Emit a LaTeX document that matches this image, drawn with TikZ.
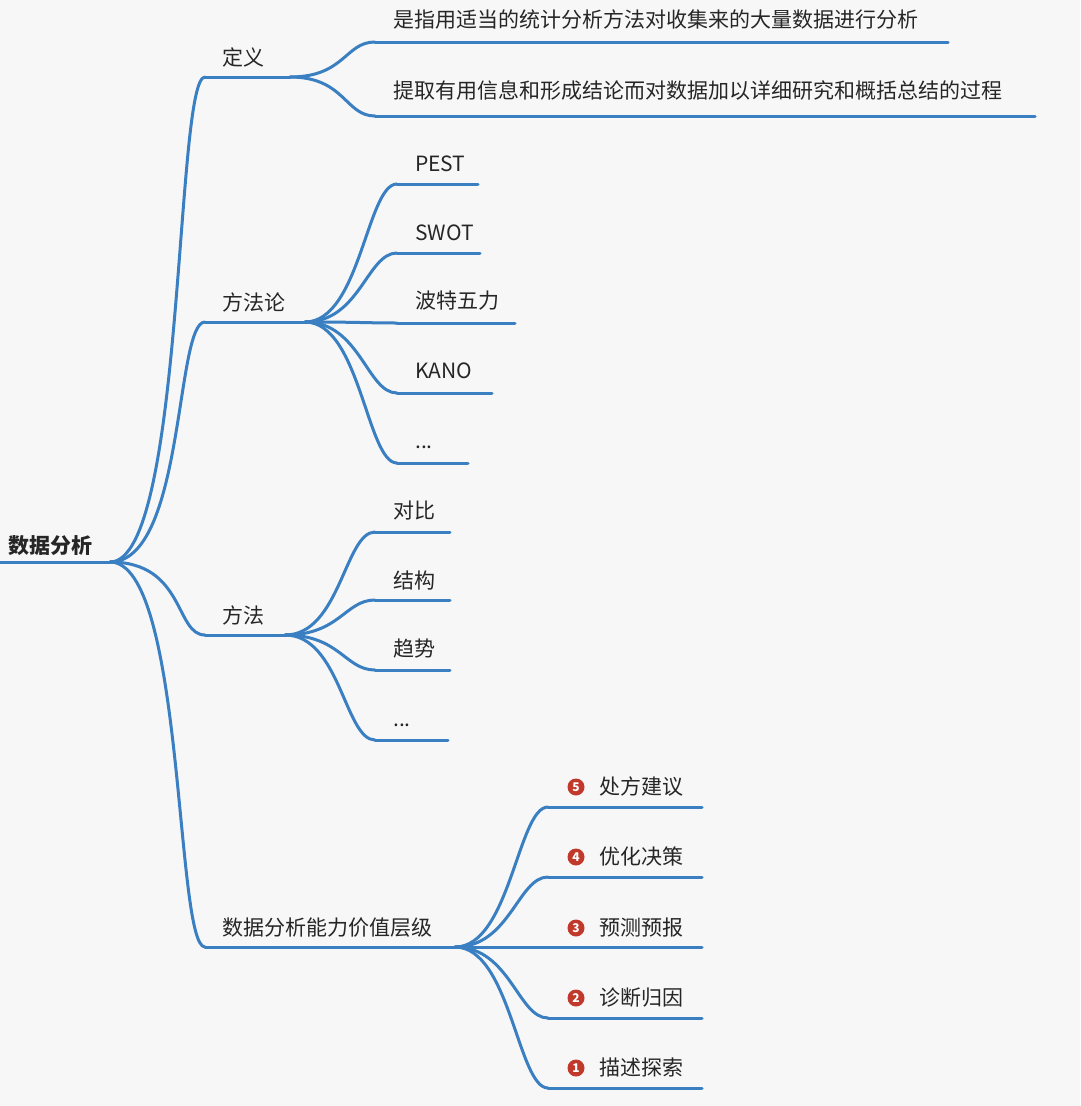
\documentclass[tikz,border=0pt]{standalone}
\usepackage{fontspec}
\setmainfont{Noto Sans CJK SC}
\definecolor{ln}{HTML}{3A7FC1}
\definecolor{bg}{HTML}{F7F7F7}
\definecolor{bd}{HTML}{C0392B}
\begin{document}
\begin{tikzpicture}[x=1pt,y=-1pt,
  lbl/.style={anchor=base west,inner sep=0pt,font=\fontsize{21}{21}\selectfont,text=black!85},
  edge/.style={draw=ln,line width=3pt,line cap=round},
  badge/.style={circle,fill=bd,text=white,inner sep=0pt,minimum size=17pt,font=\fontsize{12}{12}\selectfont\bfseries}]
\fill[bg] (0,0) rectangle (1080,1106);
\useasboundingbox (0,0) rectangle (1080,1106);
\newcommand\curve[4]{\draw[edge] (#1) .. controls +(#3,0) and +(-#4,0) .. (#2);}
% root
\node[lbl,font=\fontsize{21}{21}\selectfont\bfseries] (root) at (8,553) {数据分析};
\coordinate (r0) at (0,562); \coordinate (r1) at (110,562);
\draw[edge] (r0) -- (r1);
% level 1
\newcommand\branch[6]{%
  \node[lbl] (#1t) at (222,#2) {#6};
  \coordinate (#1a) at (#4,#3); \coordinate (#1b) at (#5,#3);
  \draw[edge] (#1a) -- (#1b);}
\branch{d}{65}{77}{205}{290}{定义}
\branch{m}{310}{322}{205}{305}{方法论}
\branch{f}{623}{635}{205}{285}{方法}
\branch{s}{935}{947}{205}{455}{数据分析能力价值层级}
\foreach \n in {d,m,f,s}{\curve{r1}{\n a}{75}{30}}
% leaves
\newcommand\leaf[7]{%
  \node[lbl] (#1t) at (#5+18,#3) {#7};
  \coordinate (#1a) at (#5,#4); \coordinate (#1b) at (#6,#4);
  \draw[edge] (#1a) -- (#1b);
  \curve{#2b}{#1a}{55}{30}}
\leaf{d1}{d}{27}{42}{375}{948}{是指用适当的统计分析方法对收集来的大量数据进行分析}
\leaf{d2}{d}{98}{116}{375}{1035}{提取有用信息和形成结论而对数据加以详细研究和概括总结的过程}
\leaf{m1}{m}{171}{184}{397}{478}{PEST}
\leaf{m2}{m}{240}{253}{397}{480}{SWOT}
\leaf{m3}{m}{308}{323}{397}{515}{波特五力}
\leaf{m4}{m}{378}{393}{397}{492}{KANO}
\leaf{m5}{m}{448}{463}{397}{468}{...}
\leaf{f1}{f}{518}{532}{375}{450}{对比}
\leaf{f2}{f}{588}{600}{375}{450}{结构}
\leaf{f3}{f}{656}{670}{375}{450}{趋势}
\leaf{f4}{f}{726}{740}{375}{448}{...}
\newcommand\nleaf[5]{%
  \node[badge] (#1c) at (576,#2-7) {#4};
  \node[lbl] (#1t) at (599,#2) {#5};
  \coordinate (#1a) at (548,#3); \coordinate (#1b) at (702,#3);
  \draw[edge] (#1a) -- (#1b);
  \curve{sb}{#1a}{55}{30}}
\nleaf{s5}{794}{807}{5}{处方建议}
\nleaf{s4}{864}{877}{4}{优化决策}
\nleaf{s3}{935}{947}{3}{预测预报}
\nleaf{s2}{1005}{1018}{2}{诊断归因}
\nleaf{s1}{1075}{1088}{1}{描述探索}
\end{tikzpicture}
\end{document}
